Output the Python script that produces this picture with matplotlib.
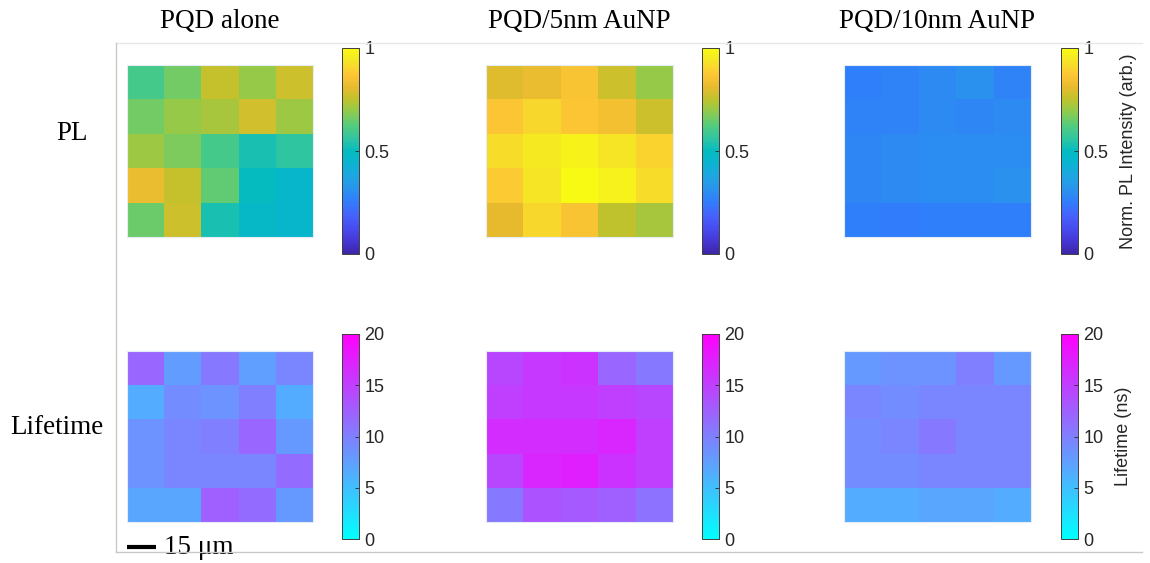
import numpy as np
import matplotlib
matplotlib.use("Agg")
import matplotlib.pyplot as plt
from matplotlib.colors import LinearSegmentedColormap
from matplotlib.lines import Line2D

# ---- data -------------------------------------------------------------
samples = ["PQD alone", "PQD/5nm AuNP", "PQD/10nm AuNP"]
row_labels = ["PL", "Lifetime"]

# normalised PL intensity maps (5 x 5 pixels)
pl_alone = [
    [0.60, 0.66, 0.76, 0.70, 0.77],
    [0.66, 0.70, 0.72, 0.78, 0.71],
    [0.71, 0.67, 0.60, 0.53, 0.56],
    [0.82, 0.76, 0.64, 0.50, 0.46],
    [0.65, 0.77, 0.53, 0.48, 0.46],
]
pl_5nm = [
    [0.80, 0.82, 0.86, 0.77, 0.70],
    [0.87, 0.91, 0.87, 0.84, 0.77],
    [0.92, 0.95, 0.98, 0.94, 0.90],
    [0.88, 0.94, 1.00, 0.97, 0.92],
    [0.81, 0.91, 0.86, 0.75, 0.72],
]
pl_10nm = [
    [0.26, 0.27, 0.29, 0.31, 0.27],
    [0.27, 0.27, 0.29, 0.28, 0.29],
    [0.28, 0.29, 0.30, 0.30, 0.30],
    [0.28, 0.29, 0.30, 0.30, 0.31],
    [0.26, 0.25, 0.26, 0.26, 0.26],
]

# lifetime maps (ns)
lt_alone = [
    [12.0, 7.8, 10.5, 7.5, 9.5],
    [6.5, 9.0, 8.5, 10.0, 6.5],
    [8.5, 9.5, 10.0, 12.0, 8.0],
    [8.5, 9.5, 9.5, 9.5, 11.5],
    [7.0, 7.0, 12.5, 11.5, 8.0],
]
lt_5nm = [
    [14.5, 15.5, 16.0, 12.0, 10.5],
    [15.0, 15.5, 15.5, 15.0, 14.5],
    [16.5, 16.5, 16.5, 17.0, 15.0],
    [14.5, 17.0, 17.5, 16.0, 15.0],
    [10.5, 13.5, 13.0, 12.5, 11.0],
]
lt_10nm = [
    [8.0, 8.5, 8.5, 10.0, 8.0],
    [9.5, 9.0, 9.5, 9.5, 9.5],
    [9.0, 9.5, 10.5, 9.5, 9.5],
    [9.0, 9.0, 9.5, 9.5, 9.5],
    [6.5, 6.5, 7.0, 7.0, 6.5],
]

pl_ticks = [0, 0.5, 1]
pl_ticklabels = ["0", "0.5", "1"]
lt_ticks = [0, 5, 10, 15, 20]
lt_ticklabels = ["0", "5", "10", "15", "20"]
pl_cbar_label = "Norm. PL Intensity (arb.)"
lt_cbar_label = "Lifetime (ns)"

scale_bar_um = 15
pixel_um = 19.2
scale_bar_text = "15 \u03bcm"

# ---- parula-like colormap ----------------------------------------------
parula_pts = [
    (0.2422, 0.1504, 0.6603), (0.2704, 0.2138, 0.8346), (0.2813, 0.2985, 0.9397),
    (0.2710, 0.3860, 0.9898), (0.1950, 0.4861, 0.9887), (0.1649, 0.5755, 0.9323),
    (0.1253, 0.6453, 0.8887), (0.0433, 0.7039, 0.8242), (0.0162, 0.7352, 0.7558),
    (0.1905, 0.7743, 0.6303), (0.3301, 0.8002, 0.4876), (0.5470, 0.7957, 0.3159),
    (0.7468, 0.7654, 0.1782), (0.9093, 0.7321, 0.1815), (0.9962, 0.7798, 0.2095),
    (0.9601, 0.8963, 0.1507), (0.9769, 0.9839, 0.0805),
]
parula = LinearSegmentedColormap.from_list("parula", parula_pts, N=256)
cool = plt.get_cmap("cool")

# ---- figure ------------------------------------------------------------
plt.rcParams["font.family"] = ["Liberation Sans", "DejaVu Sans"]

W, H = 1150, 563
fig = plt.figure(figsize=(W / 100, H / 100), dpi=100)
fig.patch.set_facecolor("white")


def fx(px):
    return px / W


def fy(py):
    return 1 - py / H


serif = ["Liberation Serif", "DejaVu Serif"]

map_x = [(127, 313), (486, 673), (844, 1031)]
cbar_x = [(342, 359), (702, 719), (1061, 1078)]
rows = [
    dict(maps=[pl_alone, pl_5nm, pl_10nm], cmap=parula, vmax=1.0,
         ticks=pl_ticks, labels=pl_ticklabels, cblabel=pl_cbar_label,
         my=(65, 237), cy=(48, 254)),
    dict(maps=[lt_alone, lt_5nm, lt_10nm], cmap=cool, vmax=20.0,
         ticks=lt_ticks, labels=lt_ticklabels, cblabel=lt_cbar_label,
         my=(351, 522), cy=(334, 539)),
]

# outer frame (open on the right)
frame_kw = dict(transform=fig.transFigure, lw=1.0)
fig.add_artist(Line2D([fx(116), fx(1142)], [fy(42.5), fy(42.5)], color="#e8e8e8", **frame_kw))
fig.add_artist(Line2D([fx(116), fx(116)], [fy(42.5), fy(552)], color="#c8c8c8", **frame_kw))
fig.add_artist(Line2D([fx(116), fx(1142)], [fy(552), fy(552)], color="#c8c8c8", **frame_kw))

axes_grid = []
for r, row in enumerate(rows):
    axes_row = []
    for c in range(3):
        x0, x1 = map_x[c]
        y0, y1 = row["my"]
        ax = fig.add_axes([fx(x0), fy(y1), fx(x1 - x0), (y1 - y0) / H])
        im = ax.imshow(np.array(row["maps"][c]), cmap=row["cmap"], vmin=0,
                       vmax=row["vmax"], aspect="auto", interpolation="nearest")
        ax.set_xticks([])
        ax.set_yticks([])
        for s in ax.spines.values():
            s.set_color("#e4ecf6")
            s.set_linewidth(0.8)
        axes_row.append(ax)

        cx0, cx1 = cbar_x[c]
        cy0, cy1 = row["cy"]
        cax = fig.add_axes([fx(cx0), fy(cy1), fx(cx1 - cx0), (cy1 - cy0) / H])
        cb = fig.colorbar(im, cax=cax, ticks=row["ticks"])
        cb.ax.set_yticklabels(row["labels"])
        cb.ax.tick_params(direction="in", length=3, width=0.6, color="#262626",
                          pad=4, labelsize=13, labelcolor="#262626")
        cb.outline.set_edgecolor("#404040")
        cb.outline.set_linewidth(0.7)
        if c == 2:
            cb.set_label(row["cblabel"], fontsize=13, color="#262626", labelpad=8)
    axes_grid.append(axes_row)

# column titles
for c, name in enumerate(samples):
    xc = (map_x[c][0] + map_x[c][1]) / 2
    fig.text(fx(xc), fy(21), name, ha="center", va="center",
             fontfamily=serif, fontsize=19.5, color="black")

# row labels
fig.text(fx(72), fy(134), row_labels[0], ha="center", va="center",
         fontfamily=serif, fontsize=19.5, color="black")
fig.text(fx(57), fy(428), row_labels[1], ha="center", va="center",
         fontfamily=serif, fontsize=19.5, color="black")

# scale bar under the first lifetime map (data units = pixels)
ax_sb = axes_grid[1][0]
xlim, ylim = ax_sb.get_xlim(), ax_sb.get_ylim()
bar_len = scale_bar_um / pixel_um
bar_y = 5.22
ax_sb.plot([-0.5, -0.5 + bar_len], [bar_y, bar_y], color="black", lw=3.0,
           solid_capstyle="butt", clip_on=False)
ax_sb.text(-0.5 + bar_len + 0.22, bar_y + 0.02, scale_bar_text, ha="left",
           va="center", fontfamily=serif, fontsize=19.5, color="black",
           clip_on=False)
ax_sb.set_xlim(xlim)
ax_sb.set_ylim(ylim)

fig.savefig("out.png", dpi=100)
